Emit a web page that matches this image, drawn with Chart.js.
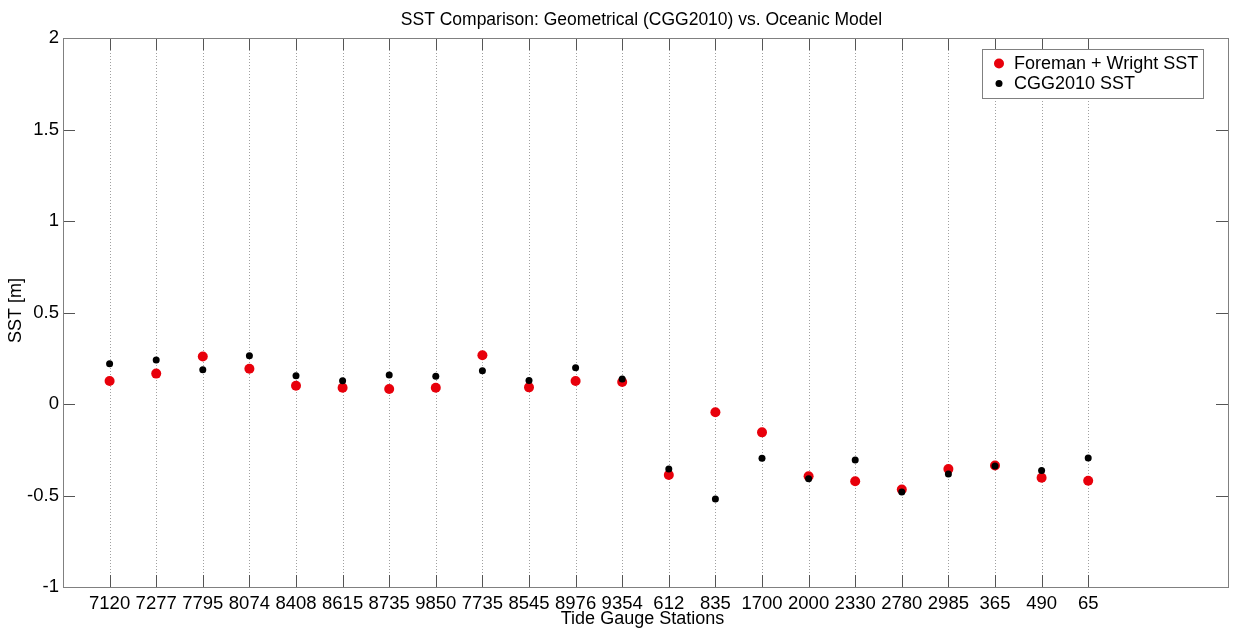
<!DOCTYPE html>
<html>
<head>
<meta charset="utf-8">
<script src="https://cdn.jsdelivr.net/npm/chart.js@4/dist/chart.umd.min.js"></script>
<style>
  html, body { margin: 0; padding: 0; background: #ffffff; }
  #wrap { width: 1233px; height: 628px; }
</style>
</head>
<body>
<div id="wrap"><canvas id="c" width="1233" height="628"></canvas></div>
<script>
// Tide gauge stations along the x axis
const stations = ['7120', '7277', '7795', '8074', '8408', '8615', '8735', '9850', '7735', '8545', '8976', '9354',
                  '612', '835', '1700', '2000', '2330', '2780', '2985', '365', '490', '65'];

// Sea surface topography [m] at each station
const foremanWrightSST = [0.126, 0.166, 0.260, 0.193, 0.100, 0.089, 0.082, 0.089, 0.266, 0.091, 0.126, 0.120,
                          -0.388, -0.045, -0.155, -0.395, -0.422, -0.467, -0.355, -0.336, -0.403, -0.419];
const cgg2010SST = [0.220, 0.240, 0.187, 0.264, 0.155, 0.127, 0.158, 0.151, 0.182, 0.129, 0.198, 0.137,
                    -0.355, -0.519, -0.297, -0.408, -0.306, -0.481, -0.383, -0.339, -0.364, -0.295];

// Y axis tick values and their labels
const yTicks = [-1, -0.5, 0, 0.5, 1, 1.5, 2];
const yTickLabels = ['-1', '-0.5', '0', '0.5', '1', '1.5', '2'];

const chartTitle = 'SST Comparison: Geometrical (CGG2010) vs. Oceanic Model';
const xTitle = 'Tide Gauge Stations';
const yTitle = 'SST [m]';

const FONT = 'Liberation Sans, Arial, sans-serif';
const RED = '#e8000b';
const BLACK = '#000000';

const toPoints = vals => vals.map((v, i) => ({ x: i, y: v }));

// Axes box, inward tick marks, dotted station guides, titles and the legend
const matlabAxes = {
  id: 'matlabAxes',
  beforeDatasetsDraw(chart) {
    const { ctx, chartArea: a, scales: { x } } = chart;
    ctx.save();
    ctx.strokeStyle = '#a0a0a0';
    ctx.lineWidth = 1;
    ctx.setLineDash([1, 2]);
    x.ticks.forEach(t => {
      const px = Math.round(x.getPixelForValue(t.value)) + 0.5;
      ctx.beginPath();
      ctx.moveTo(px, a.top);
      ctx.lineTo(px, a.bottom);
      ctx.stroke();
    });
    ctx.restore();
  },
  afterDatasetsDraw(chart) {
    const { ctx, chartArea: a, scales: { x, y } } = chart;
    const L = 12;
    ctx.save();
    ctx.lineWidth = 1;
    ctx.strokeStyle = '#555555';
    ctx.beginPath();
    x.ticks.forEach(t => {
      const px = Math.round(x.getPixelForValue(t.value)) + 0.5;
      ctx.moveTo(px, a.bottom); ctx.lineTo(px, a.bottom - L);
      ctx.moveTo(px, a.top); ctx.lineTo(px, a.top + L);
    });
    y.ticks.forEach(t => {
      const py = Math.round(y.getPixelForValue(t.value)) + 0.5;
      ctx.moveTo(a.left, py); ctx.lineTo(a.left + L, py);
      ctx.moveTo(a.right, py); ctx.lineTo(a.right - L, py);
    });
    ctx.stroke();
    ctx.strokeStyle = '#808080';
    ctx.strokeRect(Math.round(a.left) + 0.5, Math.round(a.top) + 0.5,
                   Math.round(a.right - a.left), Math.round(a.bottom - a.top));
    ctx.restore();
  },
  afterDraw(chart) {
    const { ctx, chartArea: a } = chart;
    const cx = (a.left + a.right) / 2;
    ctx.save();
    ctx.fillStyle = '#000000';
    ctx.textAlign = 'center';
    ctx.textBaseline = 'middle';
    ctx.font = '17.5px ' + FONT;
    ctx.fillText(chartTitle, cx - 4, 20);
    ctx.font = '18px ' + FONT;
    ctx.fillText(xTitle, cx - 3, 619);
    ctx.save();
    ctx.translate(16, (a.top + a.bottom) / 2 - 2);
    ctx.rotate(-Math.PI / 2);
    ctx.fillText(yTitle, 0, 0);
    ctx.restore();

    // legend
    const bx = a.right - 246, by = a.top + 11, bw = 221, bh = 49;
    ctx.fillStyle = '#ffffff';
    ctx.fillRect(bx, by, bw, bh);
    ctx.strokeStyle = '#808080';
    ctx.lineWidth = 1;
    ctx.strokeRect(Math.round(bx) + 0.5, Math.round(by) + 0.5, bw, bh);
    ctx.font = '18px ' + FONT;
    ctx.textAlign = 'left';
    const entries = [chart.data.datasets[0], chart.data.datasets[1]];
    entries.forEach((ds, i) => {
      const cy = by + 14.5 + i * 20;
      ctx.fillStyle = ds.backgroundColor;
      ctx.beginPath();
      ctx.arc(bx + 17, cy, ds.pointRadius, 0, Math.PI * 2);
      ctx.fill();
      ctx.fillStyle = '#000000';
      ctx.fillText(ds.label, bx + 32, cy + 0.5);
    });
    ctx.restore();
  }
};

new Chart(document.getElementById('c'), {
  type: 'scatter',
  data: {
    datasets: [
      {
        label: 'Foreman + Wright SST',
        data: toPoints(foremanWrightSST),
        backgroundColor: RED,
        borderColor: RED,
        borderWidth: 0,
        pointRadius: 5,
        pointHoverRadius: 5,
        order: 2
      },
      {
        label: 'CGG2010 SST',
        data: toPoints(cgg2010SST),
        backgroundColor: BLACK,
        borderColor: BLACK,
        borderWidth: 0,
        pointRadius: 3.5,
        pointHoverRadius: 3.5,
        order: 1
      }
    ]
  },
  options: {
    responsive: false,
    devicePixelRatio: 1,
    animation: false,
    events: [],
    layout: { padding: { left: 0, right: 3, top: 38, bottom: 0 } },
    plugins: {
      legend: { display: false },
      tooltip: { enabled: false },
      title: { display: false }
    },
    scales: {
      x: {
        type: 'linear',
        min: -1,
        max: 24,
        afterBuildTicks(scale) {
          scale.ticks = stations.map((_, i) => ({ value: i }));
        },
        afterFit(scale) { scale.height = 41; },
        grid: { display: false, drawTicks: false },
        border: { display: false },
        ticks: {
          autoSkip: false,
          maxRotation: 0,
          padding: 6,
          color: '#000000',
          font: { family: FONT, size: 18.5 },
          callback: v => stations[v] ?? ''
        }
      },
      y: {
        type: 'linear',
        min: -1,
        max: 2,
        afterBuildTicks(scale) {
          scale.ticks = yTicks.map(v => ({ value: v }));
        },
        afterFit(scale) { scale.width = 63; },
        grid: { display: false, drawTicks: false },
        border: { display: false },
        ticks: {
          padding: 4,
          color: '#000000',
          font: { family: FONT, size: 18.5 },
          callback: v => yTickLabels[yTicks.indexOf(v)] ?? ''
        }
      }
    }
  },
  plugins: [matlabAxes]
});
</script>
</body>
</html>
